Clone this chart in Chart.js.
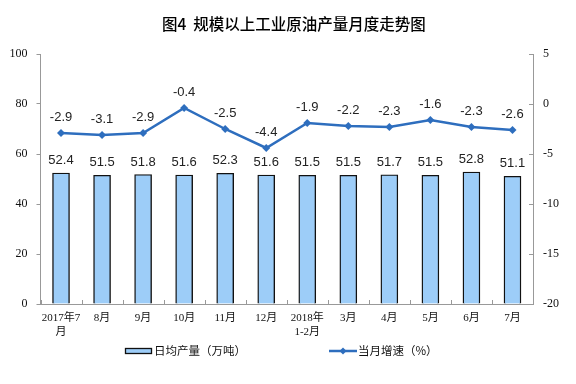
<!DOCTYPE html>
<html><head><meta charset="utf-8">
<script src="https://cdn.jsdelivr.net/npm/chart.js@4.4.0/dist/chart.umd.min.js"></script>
<style>html,body{margin:0;padding:0;background:#fff}#wrap{width:576px;height:384px}</style>
</head><body><div id="wrap"><canvas id="c" width="576" height="384"></canvas></div>
<script>
const categories = [["2017年7","月"],"8月","9月","10月","11月","12月",["2018年","1-2月"],"3月","4月","5月","6月","7月"];
const dailyOutput = [52.4,51.5,51.8,51.6,52.3,51.6,51.5,51.5,51.7,51.5,52.8,51.1];
const growthRate = [-2.9,-3.1,-2.9,-0.4,-2.5,-4.4,-1.9,-2.2,-2.3,-1.6,-2.3,-2.6];
const leftTicks = [0,20,40,60,80,100];
const rightTicks = [-20,-15,-10,-5,0,5];
const chartTitle = '图4  规模以上工业原油产量月度走势图';

const BAR_COLOR = '#9DCDF8', LINE_COLOR = '#2E6EBE';

const labelPlugin = {
  id:'labels',
  afterDatasetsDraw(chart){
    const ctx = chart.ctx;
    ctx.save();
    ctx.font = '13px "Liberation Sans", Arial, sans-serif';
    ctx.fillStyle = '#222';
    ctx.textAlign = 'center';
    ctx.textBaseline = 'bottom';
    chart.data.datasets.forEach((ds,i)=>{
      const meta = chart.getDatasetMeta(i);
      meta.data.forEach((el,j)=>{
        const v = ds.data[j];
        const off = ds.type==='line' ? 9 : 6;
        ctx.fillText(v.toFixed(1), el.x, el.y - off);
      });
    });
    ctx.restore();
  },
  afterDraw(chart){
    const ctx = chart.ctx, a = chart.chartArea;
    ctx.save();
    // title
    ctx.font = '500 15.5px "Noto Sans CJK SC", sans-serif';
    ctx.fillStyle = '#000'; ctx.textAlign = 'left'; ctx.textBaseline = 'middle';
    ctx.fillText(chartTitle, 162, 24);
    // inward ticks: bottom axis at category boundaries, right axis at ticks
    ctx.strokeStyle = '#999'; ctx.lineWidth = 1;
    const n = chart.data.labels.length;
    for (let i=0;i<=n;i++){
      const x = Math.round(a.left + (a.right-a.left)*i/n)+0.5;
      ctx.beginPath(); ctx.moveTo(x, a.bottom); ctx.lineTo(x, a.bottom-4); ctx.stroke();
    }
    const ys = chart.scales.y1;
    rightTicks.forEach(v=>{
      const y = Math.round(ys.getPixelForValue(v))+0.5;
      ctx.beginPath(); ctx.moveTo(a.right, y); ctx.lineTo(a.right-4, y); ctx.stroke();
    });
    // legend
    const ds = chart.data.datasets;
    const ly = 351;
    ctx.font = '11.5px "Noto Sans CJK SC", sans-serif';
    ctx.textBaseline = 'middle'; ctx.textAlign = 'left';
    ctx.fillStyle = BAR_COLOR; ctx.fillRect(125.5, 348.5, 26, 5);
    ctx.strokeStyle = '#111'; ctx.lineWidth = 1.3; ctx.strokeRect(125.5, 348.5, 26, 5);
    ctx.fillStyle = '#111'; ctx.fillText(ds[0].label, 154, ly);
    ctx.strokeStyle = LINE_COLOR; ctx.lineWidth = 2.5;
    ctx.beginPath(); ctx.moveTo(329, ly); ctx.lineTo(357, ly); ctx.stroke();
    ctx.fillStyle = LINE_COLOR;
    ctx.beginPath(); ctx.moveTo(343, ly-3.5); ctx.lineTo(346.5, ly); ctx.lineTo(343, ly+3.5); ctx.lineTo(339.5, ly); ctx.closePath(); ctx.fill();
    ctx.fillStyle = '#111'; ctx.fillText(ds[1].label, 358, ly);
    ctx.restore();
  }
};

new Chart(document.getElementById('c'), {
  data:{
    labels: categories,
    datasets:[
      {type:'bar', label:'日均产量（万吨）', data: dailyOutput, yAxisID:'y',
       backgroundColor:BAR_COLOR, borderColor:'#111', borderWidth:1.4,
       barThickness:17, order:2},
      {type:'line', label:'当月增速（%）', data: growthRate, yAxisID:'y1',
       borderColor:LINE_COLOR, backgroundColor:LINE_COLOR, borderWidth:2.5,
       pointStyle:'rectRot', pointRadius:4, pointHoverRadius:4, pointBorderWidth:0, tension:0, order:1}
    ]
  },
  options:{
    responsive:false, animation:false,
    layout:{padding:{left:0,right:0,top:54,bottom:0}},
    plugins:{
      title:{display:false},
      legend:{display:false},
      tooltip:{enabled:false}
    },
    scales:{
      x:{grid:{display:false, drawTicks:false, tickLength:0},
         afterFit(s){s.height=80;},
         border:{color:'#999'},
         ticks:{color:'#111', maxRotation:0, autoSkip:false, padding:8,
           font:{family:'"Liberation Serif", "Noto Sans CJK SC", serif', size:11, lineHeight:1.2}}},
      y:{position:'left', min:0, max:100,
         afterBuildTicks(s){s.ticks = leftTicks.map(v=>({value:v}));},
         afterFit(s){s.width=40.5;},
         grid:{display:true, drawOnChartArea:false, color:'#999', tickLength:4},
         border:{color:'#999'},
         ticks:{color:'#111', padding:9, font:{family:'"Liberation Serif", serif', size:12}}},
      y1:{position:'right', min:-20, max:5,
         afterBuildTicks(s){s.ticks = rightTicks.map(v=>({value:v}));},
         afterFit(s){s.width=43;},
         grid:{display:false, drawTicks:false},
         border:{color:'#999'},
         ticks:{color:'#111', padding:10, font:{family:'"Liberation Serif", serif', size:12}}}
    }
  },
  plugins:[labelPlugin]
});
</script></body></html>
